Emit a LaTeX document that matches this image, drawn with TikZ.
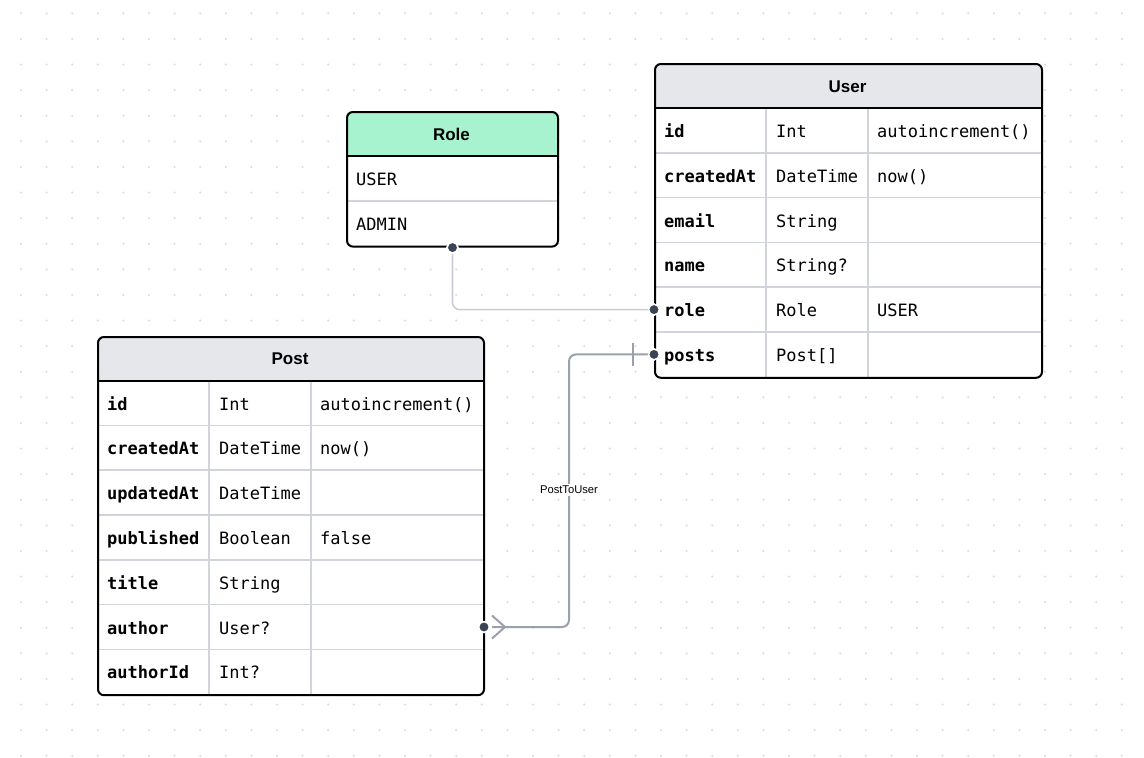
\documentclass[tikz,border=0pt]{standalone}
\usepackage{fontspec}
\setmainfont{Liberation Sans}
\newfontfamily\monof{DejaVu Sans Mono}
\definecolor{hdrgray}{HTML}{E5E7EB}
\definecolor{mint}{HTML}{A7F3D0}
\definecolor{sepgray}{HTML}{D1D5DB}
\definecolor{dotdark}{HTML}{3B4454}
\definecolor{linelight}{HTML}{C9CED6}
\definecolor{linedark}{HTML}{9AA1AC}
\definecolor{griddot}{HTML}{DADADA}
\tikzset{
  tbl/.style={draw=black, line width=2pt, rounded corners=6pt, inner sep=0pt, anchor=north west},
  sep/.style={draw=sepgray, line width=1.6pt},
  hsep/.style={draw=black, line width=1.8pt},
  title/.style={font=\fontsize{17}{20}\selectfont\bfseries, anchor=center},
  fname/.style={font=\fontsize{17}{20}\selectfont\monof\bfseries, anchor=base west, inner sep=0pt, yshift=-1pt},
  ftext/.style={font=\fontsize{17}{20}\selectfont\monof, anchor=base west, inner sep=0pt, yshift=-1pt},
  pin/.style={fill=dotdark, draw=white, line width=1.5pt},
  conn1/.style={draw=linelight, line width=1.6pt, rounded corners=7pt},
  conn2/.style={draw=linedark, line width=2pt, rounded corners=7pt},
  lbl/.style={font=\fontsize{11.2}{13}\selectfont, fill=white, inner sep=2pt}
}
\begin{document}
\begin{tikzpicture}[x=1pt,y=-1pt]
\fill[white] (0,0) rectangle (1144,758);
\useasboundingbox (0,0) rectangle (1144,758);
% dot grid
\foreach \i in {0,...,43}{
  \foreach \j in {0,...,29}{
    \fill[griddot] (21+25.6*\i,13.3+25.6*\j) circle (1.1);
  }
}
% ---------- Role ----------
\fill[mint, rounded corners=6pt] (346,156) -- (346,111) -- (557,111) [sharp corners] -- (557,156) -- cycle;
\fill[white] (346,156) rectangle (557,245.6);
\draw[sep] (346,200.8) -- (557,200.8);
\draw[hsep] (346,156) -- (557,156);
\node[tbl, minimum width=211, minimum height=134.6] (role) at (346,111) {};
\node[title] (roleT) at (451.5,134.3) {Role};
\node[ftext] (roleU) at (356,184.4) {USER};
\node[ftext] (roleA) at (356,229.2) {ADMIN};
% ---------- User ----------
\fill[hdrgray, rounded corners=6pt] (654,108) -- (654,63) -- (1041,63) [sharp corners] -- (1041,108) -- cycle;
\fill[white] (654,108) rectangle (1041,376.8);
\foreach \k in {1,...,5}{\draw[sep] (654,108+44.8*\k) -- (1041,108+44.8*\k);}
\draw[sep] (766,108) -- (766,376.8);
\draw[sep] (868,108) -- (868,376.8);
\draw[hsep] (654,108) -- (1041,108);
\node[tbl, minimum width=387, minimum height=313.8] (user) at (654,63) {};
\node[title] (userT) at (847.5,86.3) {User};
\node[fname] (u1) at (664,136.4) {id};
\node[ftext] at (776,136.4) {Int};
\node[ftext] at (877,136.4) {autoincrement()};
\node[fname] (u2) at (664,181.2) {createdAt};
\node[ftext] at (776,181.2) {DateTime};
\node[ftext] at (877,181.2) {now()};
\node[fname] (u3) at (664,226) {email};
\node[ftext] at (776,226) {String};
\node[fname] (u4) at (664,270.8) {name};
\node[ftext] at (776,270.8) {String?};
\node[fname] (urole) at (664,315.6) {role};
\node[ftext] at (776,315.6) {Role};
\node[ftext] at (877,315.6) {USER};
\node[fname] (uposts) at (664,360.4) {posts};
\node[ftext] at (776,360.4) {Post[]};
% ---------- Post ----------
\fill[hdrgray, rounded corners=6pt] (97,380.6) -- (97,336) -- (483,336) [sharp corners] -- (483,380.6) -- cycle;
\fill[white] (97,380.6) rectangle (483,694.2);
\foreach \k in {1,...,6}{\draw[sep] (97,380.6+44.8*\k) -- (483,380.6+44.8*\k);}
\draw[sep] (209,380.6) -- (209,694.2);
\draw[sep] (311,380.6) -- (311,694.2);
\draw[hsep] (97,380.6) -- (483,380.6);
\node[tbl, minimum width=386, minimum height=358.2] (post) at (97,336) {};
\node[title] (postT) at (290,359.1) {Post};
\node[fname] (p1) at (107,409) {id};
\node[ftext] at (219,409) {Int};
\node[ftext] at (320,409) {autoincrement()};
\node[fname] (p2) at (107,453.8) {createdAt};
\node[ftext] at (219,453.8) {DateTime};
\node[ftext] at (320,453.8) {now()};
\node[fname] (p3) at (107,498.6) {updatedAt};
\node[ftext] at (219,498.6) {DateTime};
\node[fname] (p4) at (107,543.4) {published};
\node[ftext] at (219,543.4) {Boolean};
\node[ftext] at (320,543.4) {false};
\node[fname] (p5) at (107,588.2) {title};
\node[ftext] at (219,588.2) {String};
\node[fname] (pauthor) at (107,633) {author};
\node[ftext] at (219,633) {User?};
\node[fname] (p7) at (107,677.8) {authorId};
\node[ftext] at (219,677.8) {Int?};
% ---------- connectors ----------
\coordinate (roleDot) at (role.south);
\coordinate (userRoleDot) at (654,309.6);
\coordinate (userPostsDot) at (654,354.4);
\coordinate (postAuthorDot) at (484,627);
\coordinate (footTip) at (492,627);
\coordinate (footJoin) at (505,627);
\draw[conn1] (roleDot) -- (roleDot |- userRoleDot) -- (userRoleDot);
\draw[conn2] (footTip) -- (569,627) -- (569,354.4) -- (userPostsDot);
\draw[conn2] (footJoin) -- (492,615.5);
\draw[conn2] (footJoin) -- (492,638.5);
\draw[conn2] (633,342.5) -- (633,366.3);
\node[lbl] (relLabel) at (569,490) {PostToUser};
\foreach \c in {roleDot,userRoleDot,userPostsDot,postAuthorDot}{
  \fill[pin] (\c) circle (5.4);
  \draw[pin] (\c) circle (5.4);
}
\end{tikzpicture}
\end{document}
